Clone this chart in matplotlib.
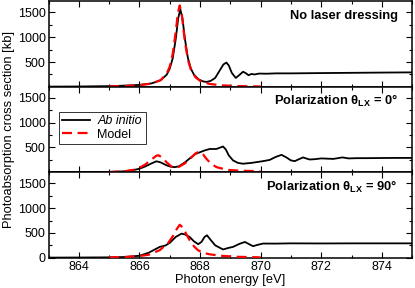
"""
Photoabsorption cross section near the K edge, with and without laser dressing.

Outputs:
    - out.png
"""

import matplotlib
matplotlib.use("Agg")
import matplotlib.pyplot as plt
from matplotlib.ticker import MultipleLocator, FixedLocator

plt.rcParams["font.family"] = ["Liberation Sans", "DejaVu Sans"]
plt.rcParams["mathtext.fontset"] = "custom"
plt.rcParams["mathtext.rm"] = "Liberation Sans"
plt.rcParams["mathtext.bf"] = "Liberation Sans:bold"
plt.rcParams["mathtext.it"] = "Liberation Sans:italic"

# --- No laser dressing ---
e_free_ab = [863.0, 864.0, 865.0, 865.5, 866.0, 866.4, 866.7, 866.9, 867.0, 867.1,
             867.2, 867.28, 867.35, 867.42, 867.5, 867.6, 867.7, 867.8, 867.95, 868.1,
             868.22, 868.35, 868.5, 868.65, 868.77, 868.87, 868.95, 869.05, 869.18, 869.3,
             869.42, 869.5, 869.6, 869.7, 869.8, 869.95, 870.2, 870.5, 871.0, 872.0,
             873.0, 874.0, 875.0]
v_free_ab = [5, 8, 15, 25, 40, 70, 133, 246, 365, 581,
             971, 1383, 1560, 1383, 971, 581, 365, 246, 152, 110,
             100, 120, 180, 330, 450, 490, 430, 280, 180, 240,
             305, 280, 235, 260, 250, 268, 265, 272, 272, 278,
             283, 288, 292]

e_free_mod = [865.0, 865.5, 866.0, 866.4, 866.7, 866.9, 867.0, 867.1, 867.2, 867.27,
              867.33, 867.4, 867.5, 867.6, 867.7, 867.85, 868.0, 868.3, 868.7, 869.2,
              870.0]
v_free_mod = [11, 17, 33, 66, 137, 268, 408, 666, 1117, 1491,
              1640, 1444, 911, 543, 342, 193, 122, 61, 31, 17,
              8]

# --- Polarization 0 deg ---
e_par_ab = [863.0, 864.0, 865.0, 865.5, 865.8, 866.0, 866.2, 866.4, 866.56, 866.7,
            866.9, 867.05, 867.17, 867.3, 867.5, 867.7, 867.85, 868.0, 868.15, 868.32,
            868.54, 868.65, 868.76, 868.85, 868.95, 869.09, 869.25, 869.42, 869.7, 870.08,
            870.3, 870.5, 870.69, 870.85, 871.0, 871.13, 871.25, 871.4, 871.5, 871.62,
            871.8, 872.0, 872.2, 872.4, 872.7, 872.9, 873.2, 873.5, 874.0, 874.5,
            875.0]
v_par_ab = [3, 5, 8, 20, 45, 72, 120, 180, 222, 200,
            140, 110, 105, 120, 200, 300, 370, 405, 440, 470,
            470, 495, 520, 460, 340, 240, 190, 173, 190, 225,
            250, 310, 352, 300, 240, 225, 260, 300, 280, 258,
            265, 280, 275, 270, 300, 280, 285, 285, 288, 290,
            290]

e_par_mod = [865.0, 865.5, 865.8, 866.0, 866.2, 866.4, 866.55, 866.62, 866.75, 866.9,
             867.05, 867.17, 867.3, 867.5, 867.7, 867.85, 867.97, 868.1, 868.21, 868.35,
             868.54, 868.7, 868.98, 869.4, 870.0]
v_par_mod = [5, 20, 50, 90, 160, 260, 330, 345, 300, 200,
             120, 94, 110, 180, 290, 380, 418, 360, 273, 180,
             105, 80, 45, 32, 20]

# --- Polarization 90 deg ---
e_perp_ab = [863.0, 864.0, 865.0, 865.5, 866.0, 866.3, 866.67, 866.85, 867.0, 867.2,
             867.39, 867.5, 867.66, 867.8, 867.94, 868.05, 868.15, 868.23, 868.35, 868.5,
             868.76, 868.95, 869.09, 869.3, 869.48, 869.6, 869.75, 869.9, 870.08, 870.5,
             871.0, 872.0, 873.0, 874.0, 875.0]
v_perp_ab = [3, 5, 8, 15, 40, 100, 219, 245, 300, 420,
             486, 470, 418, 330, 273, 320, 420, 452, 360, 250,
             167, 200, 219, 280, 318, 280, 233, 260, 286, 285,
             290, 288, 290, 290, 290]

e_perp_mod = [865.0, 865.5, 866.0, 866.3, 866.67, 866.95, 867.1, 867.2, 867.33, 867.45,
              867.55, 867.66, 867.8, 867.93, 868.1, 868.33, 868.7, 869.2, 870.0]
v_perp_mod = [5, 15, 35, 60, 153, 300, 430, 550, 664, 600,
              470, 352, 230, 153, 100, 68, 40, 20, 8]

panel_titles = ["No laser dressing",
                r"Polarization θ$_{\mathbf{LX}}$ = 0°",
                r"Polarization θ$_{\mathbf{LX}}$ = 90°"]

panels = [
    (e_free_ab, v_free_ab, e_free_mod, v_free_mod),
    (e_par_ab, v_par_ab, e_par_mod, v_par_mod),
    (e_perp_ab, v_perp_ab, e_perp_mod, v_perp_mod),
]


def main():
    fig, axes = plt.subplots(3, 1, figsize=(4.15, 2.88), dpi=100, sharex=True)
    fig.subplots_adjust(left=0.117, right=0.993, top=0.995, bottom=0.105, hspace=0)

    for i, (ax, (ea, va, em, vm), title) in enumerate(zip(axes, panels, panel_titles)):
        ax.plot(ea, va, color="black", lw=1.3, label="Ab initio", zorder=3)
        ax.plot(em, vm, color="red", lw=1.6, ls=(0, (4.5, 2.5)), label="Model", zorder=4)

        ax.set_xlim(863, 875)
        ax.set_ylim(0, 1720)
        if i == 2:
            ax.yaxis.set_major_locator(FixedLocator([0, 500, 1000, 1500]))
        else:
            ax.yaxis.set_major_locator(FixedLocator([500, 1000, 1500]))
        ax.yaxis.set_minor_locator(MultipleLocator(250))
        ax.xaxis.set_major_locator(MultipleLocator(2))
        ax.xaxis.set_minor_locator(MultipleLocator(1))
        ax.tick_params(which="both", direction="in", top=True, right=True,
                       labelsize=9, width=0.8, pad=2)
        ax.tick_params(which="major", length=4.5)
        ax.tick_params(which="minor", length=2.5)
        for sp in ax.spines.values():
            sp.set_linewidth(1.1)

        ax.text(0.96, 0.83, title, transform=ax.transAxes, ha="right", va="center",
                fontsize=9.3, fontweight="bold")

    leg = axes[1].legend(loc="upper left", bbox_to_anchor=(0.028, 0.71),
                         borderaxespad=0, fontsize=9, frameon=True, fancybox=False,
                         handlelength=2.2, handletextpad=0.6, borderpad=0.3,
                         labelspacing=0.1)
    leg.get_frame().set_edgecolor("black")
    leg.get_frame().set_linewidth(0.7)
    leg.get_texts()[0].set_fontstyle("italic")

    axes[2].set_xlabel("Photon energy [eV]", fontsize=9.3, labelpad=1)
    fig.text(0.022, 0.55, "Photoabsorption cross section [kb]", rotation=90,
             ha="center", va="center", fontsize=9.3)

    fig.savefig("out.png", dpi=100)
    plt.close(fig)


if __name__ == "__main__":
    main()
